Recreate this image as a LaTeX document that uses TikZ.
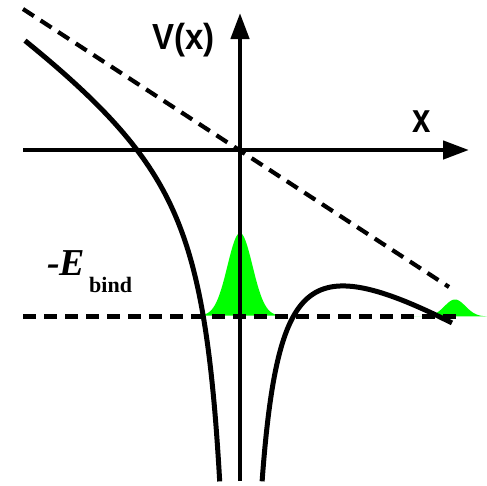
\documentclass[tikz,border=0pt]{standalone}
\usepackage{fontspec}
\newfontfamily\lsans{Liberation Sans}
\newfontfamily\lserif{Liberation Serif}
\usetikzlibrary{arrows.meta}
\definecolor{wavegreen}{RGB}{0,255,0}
\begin{document}
\begin{tikzpicture}[x=1pt,y=-1pt,
  axis/.style={line width=4.5pt,-{Triangle[length=26pt,width=18pt]}},
  curve/.style={line width=5pt},
  dashline/.style={line width=4.2pt,dash pattern=on 13pt off 8pt},
  wave/.style={fill=wavegreen}]
\useasboundingbox (0,0) rectangle (487,485);
% wave packets
\fill[wave] plot[domain=-40:40,samples=120] ({240+\x},{316-83*exp(-(\x*\x)/312)}) -- cycle;
\fill[wave] plot[domain=-45:32,samples=100] ({455+\x},{316.5-17*exp(-(\x*\x)/220)}) -- cycle;
% axes
\draw[axis] (23,150) -- (469,150);
\draw[axis] (240,481) -- (240,13);
% field line and binding energy level
\draw[dashline] (23,9) -- (449,287);
\draw[dashline,line width=5pt] (23,316) -- (456,316);
% potential
\draw[curve] plot[domain=-215:-20.3,samples=250] ({240+\x},{150+0.66*\x-7000/\x});
\draw[curve] plot[domain=22.1:212,samples=250] ({240+\x},{150+0.66*\x+7000/\x});
% labels
\node[anchor=base west,inner sep=0pt,font=\lsans\bfseries\fontsize{33}{33}\selectfont,yscale=1.1] (vlab) at (152,49) {V(x)};
\node[anchor=base west,inner sep=0pt,font=\lsans\bfseries\fontsize{33}{33}\selectfont,yscale=1.25] (xlab) at (412,132) {x};
\node[anchor=base west,inner sep=0pt,font=\lserif\bfseries\itshape\fontsize{38}{38}\selectfont] (elab) at (47,275) {-E};
\node[anchor=base west,inner sep=0pt,font=\lserif\bfseries\fontsize{22}{22}\selectfont] (blab) at (89,292) {bind};
\end{tikzpicture}
\end{document}
